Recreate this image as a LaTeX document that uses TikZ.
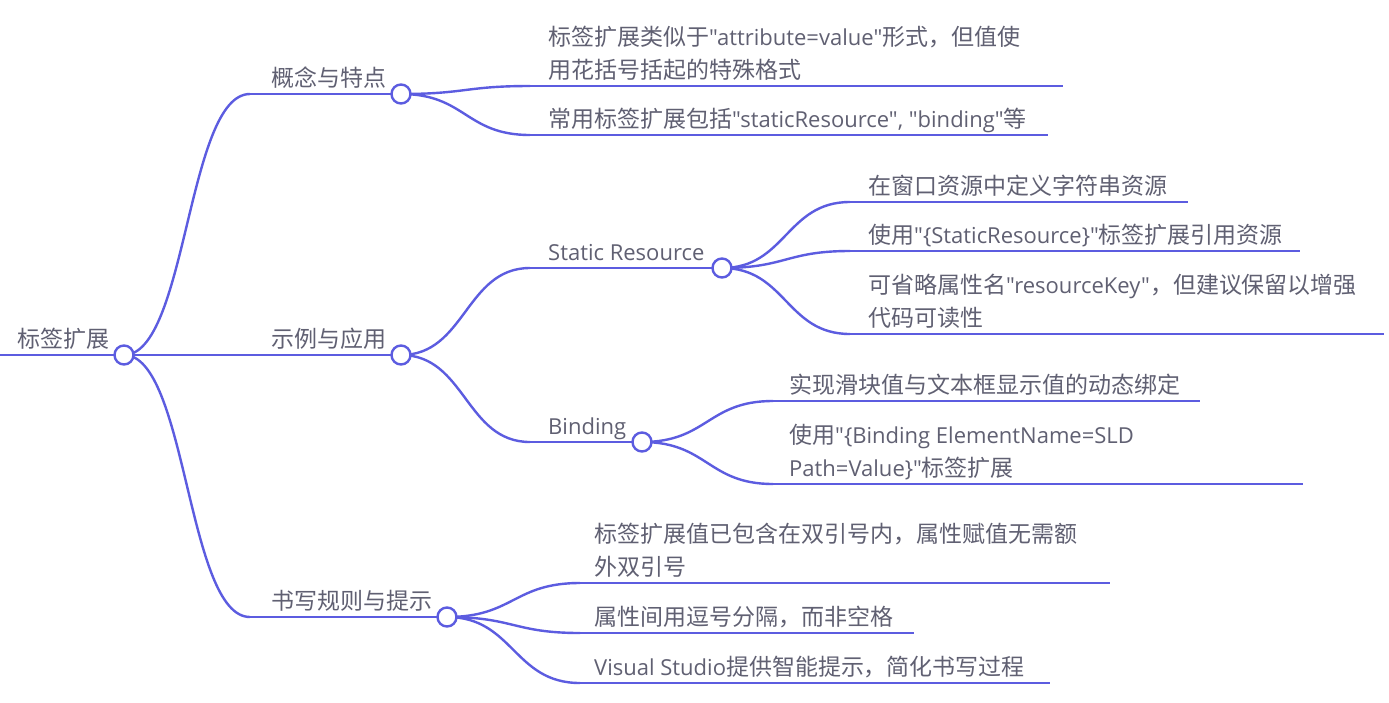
\documentclass[tikz,border=0pt]{standalone}
\usepackage{fontspec}
\setmainfont{Open Sans}[Ligatures=TeXOff]
\newfontfamily\cjk[Scale=1.045]{Noto Sans CJK SC}
\usetikzlibrary{calc}
\definecolor{linec}{RGB}{92,92,224}
\definecolor{textc}{RGB}{96,96,114}
\tikzset{
  br/.style={draw=linec, line width=2.4pt},
  dot/.style={circle, draw=linec, fill=white, line width=2.4pt, minimum size=19pt, inner sep=0pt},
  lbl/.style={anchor=base west, inner sep=0pt, align=left, text=textc, font=\fontsize{22}{33.5}\selectfont}
}
\newcommand\linkto[2]{\draw[br] let \p1=(#1), \p2=(#2) in (#1) .. controls ({(\x1+\x2)/2},\y1) and ({(\x1+\x2)/2},\y2) .. (#2);}
\begin{document}
\begin{tikzpicture}[x=1pt,y=-1pt]
\useasboundingbox[fill=white] (0,0) rectangle (1389,702);
% coordinates
\coordinate (r0) at (0,355);
\coordinate (rootc) at (124,355);
\coordinate (as) at (250,94);   \coordinate (ac) at (401,94);
\coordinate (bs) at (250,355);  \coordinate (bc) at (401,355);
\coordinate (cs) at (250,617);  \coordinate (cc) at (447,617);
\coordinate (a1s) at (530,86);  \coordinate (a1e) at (1063,86);
\coordinate (a2s) at (530,135); \coordinate (a2e) at (1048,135);
\coordinate (b1s) at (530,268); \coordinate (b1c) at (722,268);
\coordinate (b2s) at (530,442); \coordinate (b2c) at (642,442);
\coordinate (s1s) at (850,202); \coordinate (s1e) at (1188,202);
\coordinate (s2s) at (850,251); \coordinate (s2e) at (1300,251);
\coordinate (s3s) at (850,334); \coordinate (s3e) at (1384,334);
\coordinate (t1s) at (773,401); \coordinate (t1e) at (1200,401);
\coordinate (t2s) at (773,484); \coordinate (t2e) at (1303,484);
\coordinate (c1s) at (580,583); \coordinate (c1e) at (1110,583);
\coordinate (c2s) at (580,633); \coordinate (c2e) at (914,633);
\coordinate (c3s) at (580,683); \coordinate (c3e) at (1050,683);
% lines
\draw[br] (r0) -- (rootc);
\linkto{rootc}{as} \draw[br] (as) -- (ac);
\linkto{rootc}{bs} \draw[br] (bs) -- (bc);
\linkto{rootc}{cs} \draw[br] (cs) -- (cc);
\linkto{ac}{a1s} \draw[br] (a1s) -- (a1e);
\linkto{ac}{a2s} \draw[br] (a2s) -- (a2e);
\linkto{bc}{b1s} \draw[br] (b1s) -- (b1c);
\linkto{bc}{b2s} \draw[br] (b2s) -- (b2c);
\linkto{b1c}{s1s} \draw[br] (s1s) -- (s1e);
\linkto{b1c}{s2s} \draw[br] (s2s) -- (s2e);
\linkto{b1c}{s3s} \draw[br] (s3s) -- (s3e);
\linkto{b2c}{t1s} \draw[br] (t1s) -- (t1e);
\linkto{b2c}{t2s} \draw[br] (t2s) -- (t2e);
\linkto{cc}{c1s} \draw[br] (c1s) -- (c1e);
\linkto{cc}{c2s} \draw[br] (c2s) -- (c2e);
\linkto{cc}{c3s} \draw[br] (c3s) -- (c3e);
% circles
\node[dot] (root) at (rootc) {};
\node[dot] (A) at (ac) {};
\node[dot] (B) at (bc) {};
\node[dot] (C) at (cc) {};
\node[dot] (B1) at (b1c) {};
\node[dot] (B2) at (b2c) {};
% labels
\node[lbl] (troot) at (17,347.5) {\cjk 标签扩展};
\node[lbl] (tA) at (271,86.5) {\cjk 概念与特点};
\node[lbl] (tB) at (271,347.5) {\cjk 示例与应用};
\node[lbl] (tC) at (271,609.5) {\cjk 书写规则与提示};
\node[lbl] (tA1) at (548,78.5) {{\cjk 标签扩展类似于}"attribute=value"{\cjk 形式，但值使}\\{\cjk 用花括号括起的特殊格式}};
\node[lbl] (tA2) at (548,127.5) {{\cjk 常用标签扩展包括}"staticResource", "binding"{\cjk 等}};
\node[lbl] (tB1) at (548,260.5) {Static Resource};
\node[lbl] (tB2) at (548,434.5) {Binding};
\node[lbl] (tS1) at (868,194.5) {\cjk 在窗口资源中定义字符串资源};
\node[lbl] (tS2) at (868,243.5) {{\cjk 使用}"\{StaticResource\}"{\cjk 标签扩展引用资源}};
\node[lbl] (tS3) at (868,326.5) {{\cjk 可省略属性名}"resourceKey"{\cjk ，但建议保留以增强}\\{\cjk 代码可读性}};
\node[lbl] (tT1) at (789,393.5) {\cjk 实现滑块值与文本框显示值的动态绑定};
\node[lbl] (tT2) at (789,476.5) {{\cjk 使用}"\{Binding ElementName=SLD\\Path=Value\}"{\cjk 标签扩展}};
\node[lbl] (tC1) at (594,575.5) {{\cjk 标签扩展值已包含在双引号内，属性赋值无需额}\\{\cjk 外双引号}};
\node[lbl] (tC2) at (594,625.5) {\cjk 属性间用逗号分隔，而非空格};
\node[lbl] (tC3) at (594,675.5) {Visual Studio{\cjk 提供智能提示，简化书写过程}};
\end{tikzpicture}
\end{document}
